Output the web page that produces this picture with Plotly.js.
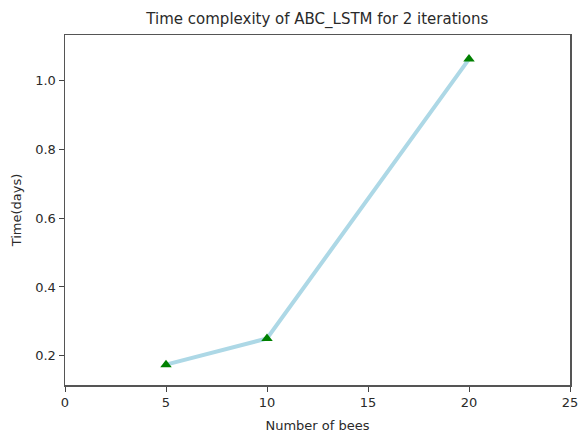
<!DOCTYPE html>
<html>
<head>
<meta charset="utf-8">
<script src="https://cdn.plot.ly/plotly-3.0.1.min.js"></script>
<style>html,body{margin:0;padding:0;background:#fff;}#chart{width:579px;height:436px;}</style>
</head>
<body>
<div id="chart"></div>
<script>
const bees = [5, 10, 20];
const timeDays = [0.174, 0.250, 1.063];
const xTicks = [0, 5, 10, 15, 20, 25];
const yTicks = [0.2, 0.4, 0.6, 0.8, 1.0];
const yTickText = ['0.2', '0.4', '0.6', '0.8', '1.0'];

const font = {family: 'DejaVu Sans', size: 13, color: '#2a2a2a'};

Plotly.newPlot('chart', [{
  x: bees,
  y: timeDays,
  type: 'scatter',
  mode: 'lines+markers',
  line: {color: '#ADD8E6', width: 4},
  marker: {symbol: 'triangle-up', color: '#008000', size: 10, line: {width: 0}},
  showlegend: false
}], {
  width: 579, height: 436,
  margin: {l: 65, r: 9, t: 35, b: 51},
  paper_bgcolor: '#fff', plot_bgcolor: '#fff',
  font: font,
  title: {text: 'Time complexity of ABC_LSTM for 2 iterations', font: {family: 'DejaVu Sans', size: 15, color: '#2a2a2a'}, x: 0.548, xanchor: 'center', y: 0.958, yanchor: 'middle'},
  xaxis: {
    range: [0, 25], tickvals: xTicks, ticktext: xTicks.map(String),
    showgrid: false, zeroline: false,
    showline: true, linecolor: '#555', linewidth: 1.5, mirror: true,
    ticks: 'outside', ticklen: 5, tickcolor: '#444', tickwidth: 1,
    title: {text: 'Number of bees', font: {family: 'DejaVu Sans', size: 13, color: '#2a2a2a'}, standoff: 12}
  },
  yaxis: {
    range: [0.1148, 1.133], tickvals: yTicks, ticktext: yTickText,
    showgrid: false, zeroline: false,
    showline: true, linecolor: '#555', linewidth: 1.5, mirror: true,
    ticks: 'outside', ticklen: 5, tickcolor: '#444', tickwidth: 1,
    title: {text: 'Time(days)', font: {family: 'DejaVu Sans', size: 13, color: '#2a2a2a'}, standoff: 10}
  }
}, {displayModeBar: false, staticPlot: true});
</script>
</body>
</html>
